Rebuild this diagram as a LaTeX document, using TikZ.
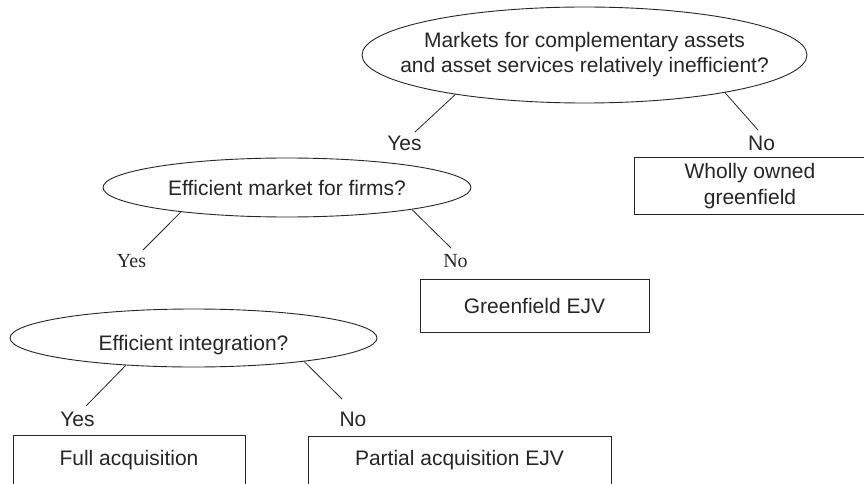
\documentclass[tikz,border=0pt]{standalone}
\usepackage{fontspec}
\setmainfont{Liberation Sans}
\newfontfamily\serifans{Liberation Serif}
\usepackage{tikz}
\usetikzlibrary{shapes.geometric}
\definecolor{ink}{gray}{0.15}
\tikzstyle{question} = [ellipse,draw=ink,line width=0.9pt,text=ink,inner xsep=-60pt,inner ysep=0pt,align=center,font=\fontsize{21}{25}\selectfont]
\tikzstyle{outcome} = [rectangle,draw=ink,line width=0.9pt,text=ink,inner sep=0pt,align=center,font=\fontsize{21}{26}\selectfont]
\tikzstyle{answer} = [text=ink,inner sep=0pt,font=\fontsize{21}{25}\selectfont]
\tikzstyle{serifanswer} = [text=ink,inner sep=0pt,font=\serifans\fontsize{20}{24}\selectfont]
\tikzstyle{branch} = [draw=ink,line width=0.8pt]

\begin{document}
\begin{tikzpicture}[x=1pt,y=-1pt]
          \useasboundingbox (0,0) rectangle (864,484);
          % questions
          \node [question,minimum width=445pt,minimum height=96pt] (Q1) at (584.5,55)
            {Markets for complementary assets\\and asset services relatively inefficient?};
          \node [question,minimum width=368pt,minimum height=59pt] (Q2) at (287,187.5) {Efficient market for firms?};
          \node [question,minimum width=367pt,minimum height=58pt,text height=25pt,text depth=0pt] (Q3) at (193.5,338) {Efficient integration?};

          % answers
          \node [answer] (Y1) at (404.5,143.5) {Yes};
          \node [answer] (N1) at (761.5,143.5) {No};
          \node [serifanswer] (Y2) at (131.5,261) {Yes};
          \node [serifanswer] (N2) at (455.5,261) {No};
          \node [answer] (Y3) at (77.5,419.5) {Yes};
          \node [answer] (N3) at (353,419.5) {No};

          % outcomes
          \node [outcome,minimum width=232pt,minimum height=57.5pt] (W) at (750,185.75) {Wholly owned\\greenfield};
          \node [outcome,minimum width=229pt,minimum height=53pt] (G) at (534.5,305.5) {Greenfield EJV};
          \node [outcome,minimum width=232pt,minimum height=50pt] (F) at (129,460) {Full acquisition};
          \node [outcome,minimum width=303pt,minimum height=48pt] (P) at (459.5,460) {Partial acquisition EJV};

          % branches
          \draw [branch] (Q1.197) -- ([shift={(10.5,-11.5)}]Y1.center);
          \draw [branch] (Q1.345) -- ([shift={(-3.5,-13.5)}]N1.center);
          \draw [branch] (Q2.193) -- ([shift={(11.5,-11)}]Y2.center);
          \draw [branch] (Q2.350) -- ([shift={(-4.5,-13)}]N2.center);
          \draw [branch] (Q3.202) -- ([shift={(8.5,-13.5)}]Y3.center);
          \draw [branch] (Q3.348) -- ([shift={(-11,-20.5)}]N3.center);
\end{tikzpicture}
\end{document}
